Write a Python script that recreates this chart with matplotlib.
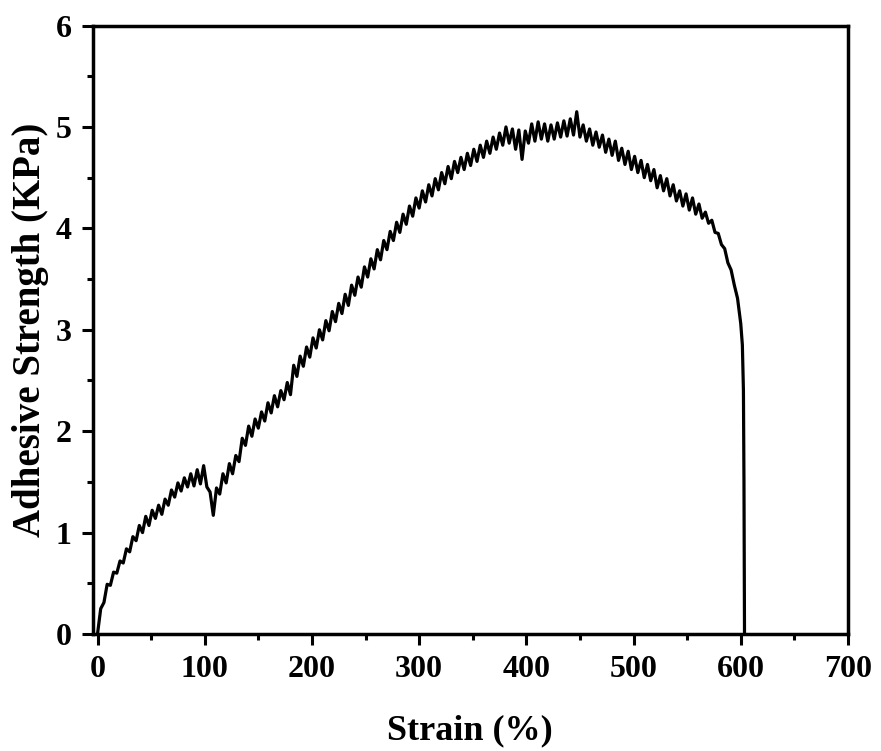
import numpy as np
import matplotlib.pyplot as plt
from matplotlib.ticker import MultipleLocator

plt.rcParams['font.family'] = ['Liberation Serif', 'DejaVu Serif']
plt.rcParams['font.weight'] = 'bold'

strain_main = np.arange(0, 601, 3)
stress_main = [
    0.00, 0.25, 0.31, 0.49, 0.48, 0.61, 0.60, 0.72, 0.70, 0.84,
    0.81, 0.96, 0.92, 1.07, 1.00, 1.16, 1.07, 1.22, 1.14, 1.27,
    1.18, 1.33, 1.27, 1.42, 1.35, 1.49, 1.41, 1.54, 1.45, 1.58,
    1.46, 1.62, 1.48, 1.66, 1.45, 1.40, 1.17, 1.44, 1.38, 1.58,
    1.49, 1.68, 1.58, 1.76, 1.70, 1.93, 1.86, 2.05, 1.95, 2.12,
    2.03, 2.19, 2.10, 2.28, 2.18, 2.35, 2.24, 2.40, 2.31, 2.48,
    2.36, 2.65, 2.54, 2.74, 2.64, 2.83, 2.73, 2.92, 2.82, 3.00,
    2.90, 3.09, 2.99, 3.18, 3.08, 3.26, 3.16, 3.35, 3.24, 3.44,
    3.34, 3.52, 3.42, 3.62, 3.52, 3.70, 3.60, 3.79, 3.69, 3.88,
    3.79, 3.97, 3.88, 4.06, 3.96, 4.14, 4.04, 4.22, 4.12, 4.30,
    4.20, 4.37, 4.26, 4.43, 4.32, 4.49, 4.38, 4.55, 4.44, 4.61,
    4.49, 4.66, 4.55, 4.70, 4.58, 4.74, 4.62, 4.78, 4.66, 4.82,
    4.70, 4.86, 4.74, 4.90, 4.78, 4.94, 4.82, 5.00, 4.84, 4.98,
    4.78, 4.97, 4.68, 4.96, 4.84, 5.03, 4.86, 5.05, 4.88, 5.03,
    4.86, 5.02, 4.88, 5.04, 4.90, 5.06, 4.91, 5.08, 4.92, 5.15,
    4.90, 5.02, 4.86, 4.98, 4.82, 4.95, 4.80, 4.92, 4.75, 4.88,
    4.72, 4.86, 4.67, 4.79, 4.63, 4.76, 4.58, 4.71, 4.55, 4.67,
    4.50, 4.63, 4.47, 4.58, 4.40, 4.52, 4.37, 4.49, 4.32, 4.43,
    4.27, 4.37, 4.22, 4.34, 4.18, 4.30, 4.14, 4.24, 4.10, 4.16,
    4.05, 4.08, 3.96, 3.95, 3.84, 3.80, 3.66, 3.59, 3.44, 3.31,
    3.06,
]
# final rupture
strain_drop = [601.5, 602.5, 603.0, 603.3, 603.5]
stress_drop = [2.85, 2.40, 1.50, 0.60, 0.00]

strain = np.concatenate([strain_main, strain_drop])
stress = np.concatenate([stress_main, stress_drop])

fig = plt.figure(figsize=(8.81, 7.51), dpi=100)
ax = fig.add_axes([0.1052, 0.1558, 0.8573, 0.8102])

ax.plot(strain, stress, color='black', linewidth=2.3)

ax.set_xlim(-4.5, 700)
ax.set_ylim(0, 6)
ax.xaxis.set_major_locator(MultipleLocator(100))
ax.xaxis.set_minor_locator(MultipleLocator(50))
ax.yaxis.set_major_locator(MultipleLocator(1))
ax.yaxis.set_minor_locator(MultipleLocator(0.5))

for s in ax.spines.values():
    s.set_linewidth(2.5)
ax.tick_params(which='major', direction='out', length=8, width=2.2,
               labelsize=23, pad=7)
ax.tick_params(which='minor', direction='out', length=4.5, width=2.2)

ax.set_xlabel('Strain (%)', fontsize=26, fontweight='bold', labelpad=22)
ax.set_ylabel('Adhesive Strength (KPa)', fontsize=28, fontweight='bold', labelpad=5)

fig.savefig('out.png', dpi=100)
